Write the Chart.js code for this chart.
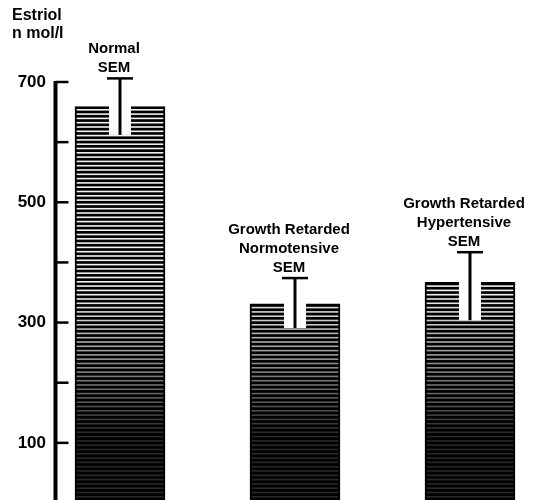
<!DOCTYPE html>
<html>
<head>
<meta charset="utf-8">
<script src="https://cdn.jsdelivr.net/npm/chart.js@4"></script>
<style>
  html, body { margin: 0; padding: 0; background: #fff; overflow: hidden; }
  #wrap { width: 537px; height: 503px; }
</style>
</head>
<body>
<div id="wrap"><canvas id="c" width="537" height="503"></canvas></div>
<script>
// Group labels (lines drawn above each error bar)
const categories = [
  ['Normal'],
  ['Growth Retarded', 'Normotensive'],
  ['Growth Retarded', 'Hypertensive']
];
// Mean estriol, n mol/l
const means = [659, 331, 367];
// Upper and lower ends of the SEM bars, n mol/l
const semTop = [706, 374, 417];
const semBottom = [612, 291, 304];
// Y axis
const yTicks = [100, 200, 300, 400, 500, 600, 700];
const yLabelled = [100, 300, 500, 700];
const yTitle = ['Estriol', 'n mol/l'];

const FONT = "'Liberation Sans', Arial, Helvetica, sans-serif";
Chart.defaults.font.family = FONT;
Chart.defaults.font.weight = 'bold';
Chart.defaults.color = '#000';

const canvas = document.getElementById('c');
const ctx = canvas.getContext('2d');

// Horizontal-rule hatching, fading darker towards the base of the bars
function hatchPattern() {
  const h = 504;
  const c = document.createElement('canvas');
  c.width = 4; c.height = h;
  const g = c.getContext('2d');
  g.fillStyle = '#000';
  g.fillRect(0, 0, 4, h);
  for (let y = 0; y < h; y += 4.3) {
    const a = Math.max(0.16, Math.min(0.95, 0.95 - (y - 290) / 180));
    g.fillStyle = 'rgba(255,255,255,' + a.toFixed(3) + ')';
    g.fillRect(0, y + 1.5, 4, 1.6);
  }
  return ctx.createPattern(c, 'repeat');
}

const axisAndErrors = {
  id: 'axisAndErrors',
  afterDatasetsDraw(chart) {
    const c = chart.ctx;
    const y = chart.scales.y;
    const area = chart.chartArea;
    const meta = chart.getDatasetMeta(0);
    c.save();

    // SEM bars: white slot cut into the bar, stem and cap
    meta.data.forEach((bar, i) => {
      const x = bar.x;
      const yT = y.getPixelForValue(semTop[i]);
      const yB = y.getPixelForValue(semBottom[i]);
      c.fillStyle = '#fff';
      c.fillRect(x - 11, bar.y - 2, 22, yB - bar.y + 2);
      c.strokeStyle = '#000';
      c.lineWidth = 3;
      c.beginPath();
      c.moveTo(x, yT);
      c.lineTo(x, yB);
      c.stroke();
      c.lineWidth = 2.5;
      c.beginPath();
      c.moveTo(x - 13, yT);
      c.lineTo(x + 13, yT);
      c.stroke();

      // group label with "SEM" underneath
      const lines = categories[i].concat(['SEM']);
      c.fillStyle = '#000';
      c.font = 'bold 15px ' + FONT;
      c.textAlign = 'center';
      c.textBaseline = 'alphabetic';
      lines.forEach((t, k) => {
        c.fillText(t, x - 6, yT - 6 - (lines.length - 1 - k) * 19);
      });
    });

    // Y axis spine with inward tick marks
    c.strokeStyle = '#000';
    c.lineWidth = 4;
    const ax = area.left - 1.5;
    c.beginPath();
    c.moveTo(ax, y.getPixelForValue(700) - 1);
    c.lineTo(ax, area.bottom + 2);
    c.stroke();
    c.lineWidth = 2.5;
    yTicks.forEach(v => {
      const py = y.getPixelForValue(v);
      c.beginPath();
      c.moveTo(ax, py);
      c.lineTo(ax + 13, py);
      c.stroke();
    });

    // Axis title
    c.textAlign = 'left';
    c.font = 'bold 16px ' + FONT;
    c.fillText(yTitle[0], 12, 20);
    c.fillText(yTitle[1], 12, 38);
    c.restore();
  }
};

new Chart(canvas, {
  type: 'bar',
  data: {
    datasets: [{
      data: means.map((m, i) => ({ x: i, y: m })),
      backgroundColor: hatchPattern(),
      borderColor: '#000',
      borderWidth: 2,
      barThickness: 90
    }]
  },
  options: {
    responsive: false,
    animation: false,
    events: [],
    layout: { padding: { top: 82, left: 0, right: 0, bottom: 0 } },
    plugins: { legend: { display: false }, tooltip: { enabled: false } },
    scales: {
      x: {
        type: 'linear',
        offset: false,
        min: -0.36,
        max: 2.383,
        display: false
      },
      y: {
        min: 0,
        max: 700,
        afterFit(scale) {
          scale.width = 57;
          scale.paddingTop = 0;
          scale.paddingBottom = 0;
        },
        grid: { display: false },
        border: { display: false },
        ticks: {
          stepSize: 100,
          padding: 3,
          color: '#000',
          font: { size: 17, weight: 'bold', family: FONT },
          callback: v => (yLabelled.includes(v) ? String(v) : null)
        }
      }
    }
  },
  plugins: [axisAndErrors]
});
</script>
</body>
</html>
